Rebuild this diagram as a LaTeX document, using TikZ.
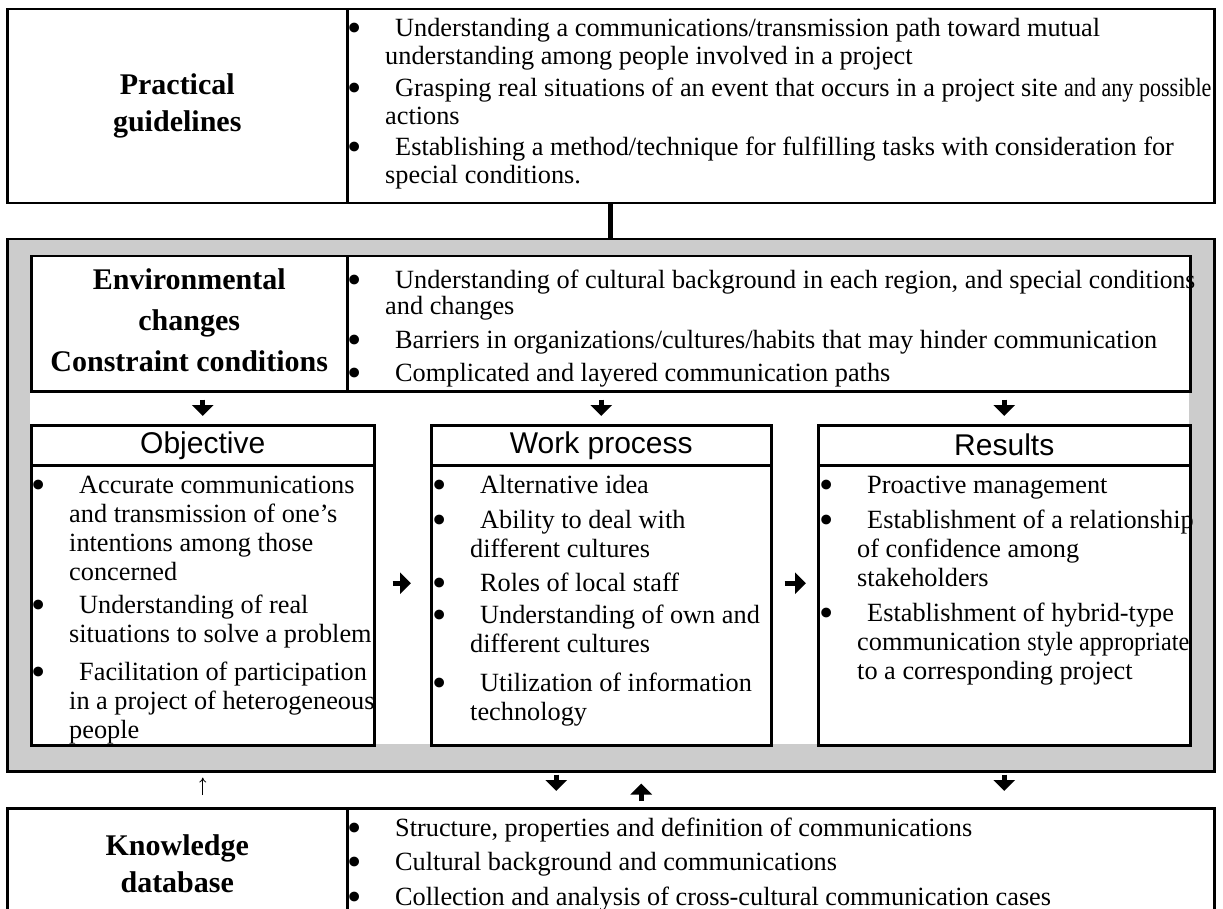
\documentclass[tikz,border=0pt]{standalone}
\usepackage{fontspec}
\usepackage{graphicx}
\setmainfont{Liberation Serif}
\newfontfamily\headsans{Liberation Sans}
\usetikzlibrary{arrows.meta,calc}
\definecolor{framegray}{RGB}{204,204,204}
% bullet hanging to the left of the first line
\newcommand{\bul}{\rule{0pt}{20pt}\llap{\raisebox{-5pt}{\scalebox{1.55}{\textbullet}}\kern23pt}\kern10pt}
\tikzset{
  cell/.style={rectangle, draw, line width=2.5pt, fill=white, anchor=north west,
               inner sep=0pt, align=center, font=\fontsize{30}{37}\selectfont\bfseries},
  head/.style={cell, font=\headsans\fontsize{30}{36}\selectfont},
  bitem/.style={anchor=north west, inner sep=0pt, align=left,
                font=\fontsize{26.3}{#1}\selectfont},
  bitem/.default=28,
  bigarr/.style={-{Triangle[length=11pt,width=21pt]}, line width=5pt},
  thinarr/.style={-{To[length=5pt,width=7pt]}, line width=0.8pt},
}

\begin{document}
\begin{tikzpicture}[x=1pt, y=-1pt]
  \useasboundingbox (0,0) rectangle (1223,909);

  % practical guidelines
  \node[cell, minimum width=340pt, minimum height=194pt] (guideL) at (6,8) {Practical\\guidelines};
  \node[cell, minimum width=867pt, minimum height=194pt] (guideR) at (346,8) {};
  \node[bitem] (g1) at (385,16) {\bul Understanding a communications/transmission path toward mutual\\understanding among people involved in a project};
  \node[bitem] (g2) at (385,76) {\bul Grasping real situations of an event that occurs in a project site \scalebox{0.84}[1]{and any possible}\\actions};
  \node[bitem] (g3) at (385,135) {\bul Establishing a method/technique for fulfilling tasks with consideration for\\special conditions.};

  % gray frame
  \node[cell, fill=framegray, minimum width=1207pt, minimum height=532pt] (frame) at (6,238) {};
  \node[fill=white, inner sep=0pt, anchor=north west, minimum width=1159pt, minimum height=489pt] (inner) at (30,255) {};
  \draw[line width=5pt] (frame.north) -- (frame.north |- guideR.south);

  % environment
  \node[cell, minimum width=316pt, minimum height=135pt, font=\fontsize{30}{41}\selectfont\bfseries] (envL) at (30,255) {Environmental\\changes\\Constraint conditions\rule[-8pt]{0pt}{0pt}};
  \node[cell, minimum width=843pt, minimum height=135pt] (envR) at (346,255) {};
  \node[bitem=26] (e1) at (385,268) {\bul Understanding of cultural background in each region, and special \scalebox{0.97}[1]{conditions}\\and changes};
  \node[bitem] (e2) at (385,328) {\bul Barriers in organizations/cultures/habits that may hinder communication};
  \node[bitem] (e3) at (385,361) {\bul Complicated and layered communication paths};

  % columns
  \node[head, minimum width=343pt, minimum height=40pt] (objH) at (30,424) {Objective};
  \node[cell, minimum width=343pt, minimum height=280pt] (objB) at (30,464) {};
  \node[head, minimum width=340pt, minimum height=40pt] (wpH) at (430,424) {Work process};
  \node[cell, minimum width=340pt, minimum height=280pt] (wpB) at (430,464) {};
  \node[head, minimum width=372pt, minimum height=40pt] (resH) at (817,424) {Results};
  \node[cell, minimum width=372pt, minimum height=280pt] (resB) at (817,464) {};

  \node[bitem=29] (o1) at (69,473) {\bul Accurate communications\\and transmission of one's\\intentions among those\\concerned};
  \node[bitem=29] (o2) at (69,593) {\bul Understanding of real\\situations to solve a problem};
  \node[bitem=29] (o3) at (69,660) {\bul Facilitation of participation\\in a project of heterogeneous\\people};

  \node[bitem=29] (w1) at (470,473) {\bul Alternative idea};
  \node[bitem=29] (w2) at (470,508) {\bul Ability to deal with\\different cultures};
  \node[bitem=29] (w3) at (470,571) {\bul Roles of local staff};
  \node[bitem=29] (w4) at (470,603) {\bul Understanding of own and\\different cultures};
  \node[bitem=29] (w5) at (470,671) {\bul Utilization of information\\technology};

  \node[bitem=29] (r1) at (857,473) {\bul Proactive management};
  \node[bitem=29] (r2) at (857,508) {\bul Establishment of a relationship\\of confidence among\\stakeholders};
  \node[bitem=29] (r3) at (857,601) {\bul Establishment of hybrid-type\\communication \scalebox{0.92}[1]{style appropriate}\\to a corresponding project};

  % knowledge database
  \node[cell, minimum width=340pt, minimum height=110pt] (kbL) at (6,807) {Knowledge\\database};
  \node[cell, minimum width=867pt, minimum height=110pt] (kbR) at (346,807) {};
  \node[bitem] (k1) at (385,816) {\bul Structure, properties and definition of communications};
  \node[bitem] (k2) at (385,850) {\bul Cultural background and communications};
  \node[bitem] (k3) at (385,885) {\bul Collection and analysis of cross-cultural communication cases};

  % arrows
  \draw[bigarr] ($(envR.south -| objH.north)+(0,7)$) -- ($(objH.north)+(0,-8)$);
  \draw[bigarr] ($(envR.south -| wpH.north)+(0,7)$) -- ($(wpH.north)+(0,-8)$);
  \draw[bigarr] ($(envR.south -| resH.north)+(0,7)$) -- ($(resH.north)+(0,-8)$);
  \draw[bigarr] ($(objB.east)+(17,-22)$) -- ($(wpB.west)+(-19,-22)$);
  \draw[bigarr] ($(wpB.east)+(12,-22)$) -- ($(resB.west)+(-11,-22)$);
  \draw[thinarr] ($(kbL.north -| objB.south)+(0,-12)$) -- ($(frame.south -| objB.south)+(0,5)$);
  \draw[bigarr] ($(frame.south)+(-54.5,2)$) -- ($(kbR.north)+(-224.5,-16)$);
  \draw[bigarr] ($(kbR.north)+(-139.5,-6)$) -- ($(frame.south)+(30.5,11)$);
  \draw[bigarr] ($(resB.south)+(0,28)$) -- ($(kbR.north -| resB.south)+(0,-16)$);
\end{tikzpicture}
\end{document}
